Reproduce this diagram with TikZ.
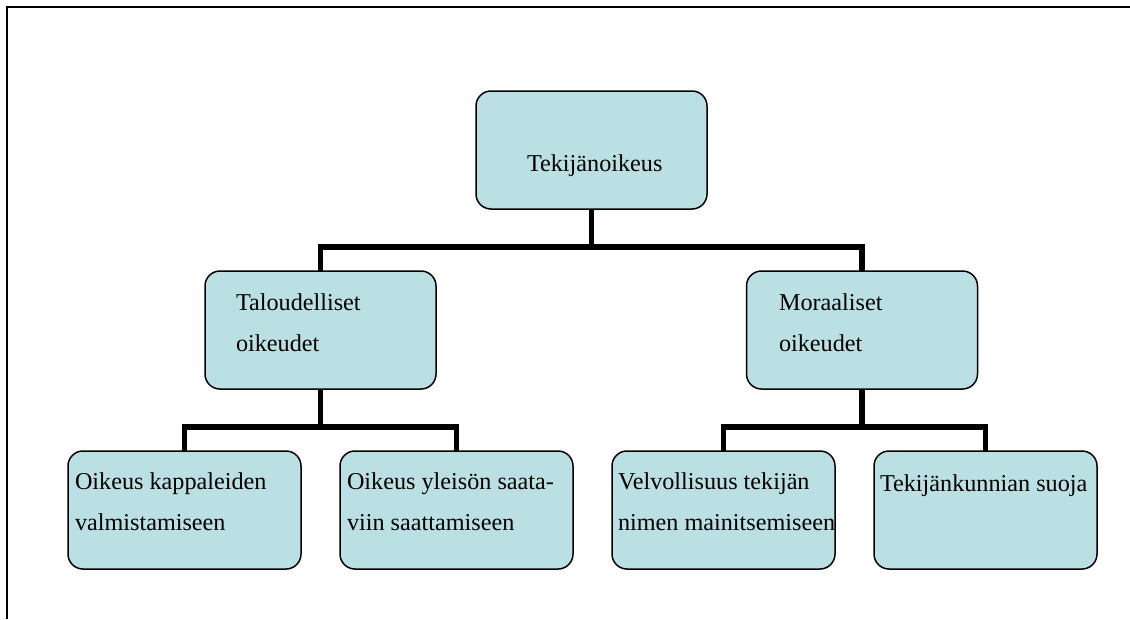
\documentclass[tikz,border=0pt]{standalone}
\usepackage{fontspec}
\setmainfont{Liberation Serif}
\usetikzlibrary{backgrounds}
\definecolor{boxfill}{HTML}{BBE0E3}
\tikzset{
  box/.style={draw=black, line width=1.5pt, fill=boxfill, rounded corners=15pt,
    inner sep=0pt, outer sep=0pt, minimum width=231pt, minimum height=118pt},
  txt/.style={inner sep=0pt, outer sep=0pt, anchor=base west, align=left,
    font=\fontsize{24.2}{41}\selectfont},
  conn/.style={draw=black, line width=5.8pt, line join=miter},
  frame/.style={draw=black, line width=2.2pt}
}
\begin{document}
\begin{tikzpicture}[x=1pt,y=-1pt]
\useasboundingbox (0,0) rectangle (1130,619);
\draw[frame] (7,619) -- (7,7) -- (1130,7);

\node[box] (tek) at (591.5,150) {};
\node[box] (tal) at (320.5,330) {};
\node[box] (mor) at (862,330) {};
\node[box, minimum width=233pt] (kap) at (184.5,510) {};
\node[box, minimum width=233pt] (yle) at (456.5,510) {};
\node[box, minimum width=223pt] (vel) at (723.5,510) {};
\node[box, minimum width=223pt] (suo) at (985.5,510) {};

% base anchor of a multi-line node is the baseline of its last line
\node[txt] (tekT) at (527,171) {Tekijänoikeus};
\node[txt] (talT) at (236,351) {Taloudelliset\\oikeudet};
\node[txt] (morT) at (779,351) {Moraaliset\\oikeudet};
\node[txt] (kapT) at (75,530) {Oikeus kappaleiden\\valmistamiseen};
\node[txt] (yleT) at (347,530) {Oikeus yleisön saata-\\viin saattamiseen};
\node[txt] (velT) at (618,530) {Velvollisuus tekijän\\nimen mainitsemiseen};
\node[txt] (suoT) at (880,491) {Tekijänkunnian suoja};

\coordinate (j1) at (591.5,247);
\coordinate (j2) at (320.5,427);
\coordinate (j3) at (862,427);
\begin{scope}[on background layer]
\draw[conn] (tek.south) -- (j1);
\draw[conn] (tal.north) |- (j1) -| (mor.north);
\draw[conn] (tal.south) -- (j2);
\draw[conn] (kap.north) |- (j2) -| (yle.north);
\draw[conn] (mor.south) -- (j3);
\draw[conn] (vel.north) |- (j3) -| (suo.north);
\end{scope}
\end{tikzpicture}
\end{document}
